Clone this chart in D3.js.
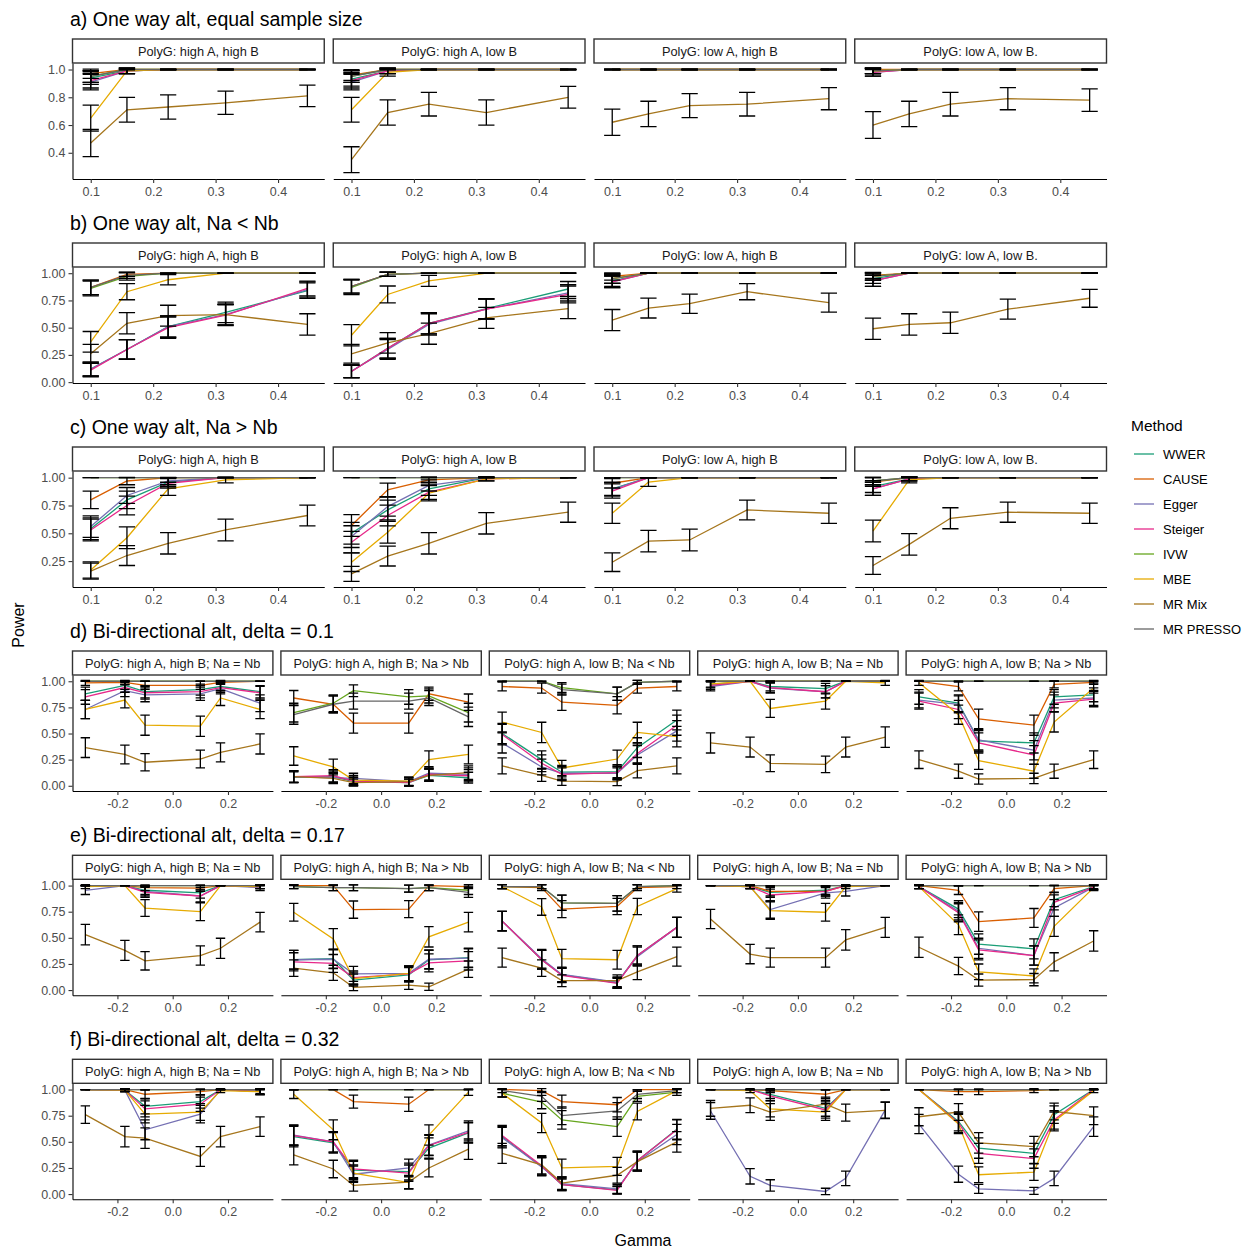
<!DOCTYPE html>
<html>
<head>
  <meta charset="utf-8">
  <title>Power by gamma</title>
  <script src="https://cdnjs.cloudflare.com/ajax/libs/d3/7.8.5/d3.min.js"></script>
  <style>
    body { margin: 0; background: #fff; }
    text { font-family: 'Liberation Sans', Arial, sans-serif; }
  </style>
</head>
<body>
<script>
// Size of the whole figure
var width = 1245,
    height = 1249;

// Methods and their colours (Dark2)
var methods = ['WWER', 'CAUSE', 'Egger', 'Steiger', 'IVW', 'MBE', 'MR Mix', 'MR PRESSO'];
var methodColors = ['#1b9e77', '#d95f02', '#7570b3', '#e7298a', '#66a61e', '#e6ab02', '#a6761d', '#666666'];

// number of simulations behind each power estimate (for the binomial error bars)
var nSims = 100;

// gamma values on the x axis
var gammaOneWay = [0.1, 0.158, 0.224, 0.316, 0.447];
var gammaBiDir = [-0.316, -0.173, -0.1, 0.1, 0.173, 0.316];

// tick labels
var xTicksOneWay = [0.1, 0.2, 0.3, 0.4];
var xTicksBiDir = [-0.2, 0.0, 0.2];
var yTicksRowA = [0.4, 0.6, 0.8, 1.0];
var yTicksPower = [0, 0.25, 0.5, 0.75, 1];

// facet labels and row titles
var facetsOneWay = ['PolyG: high A, high B', 'PolyG: high A, low B', 'PolyG: low A, high B', 'PolyG: low A, low B.'];
var facetsBiDir = ['PolyG: high A, high B; Na = Nb', 'PolyG: high A, high B; Na > Nb', 'PolyG: high A, low B; Na < Nb',
                   'PolyG: high A, low B; Na = Nb', 'PolyG: high A, low B; Na > Nb'];
var rowTitles = ['a) One way alt, equal sample size', 'b) One way alt, Na < Nb', 'c) One way alt, Na > Nb',
                 'd) Bi-directional alt, delta = 0.1', 'e) Bi-directional alt, delta = 0.17', 'f) Bi-directional alt, delta = 0.32'];

// Power, one array per method in the order of `methods`
// a) one way, equal sample size
var powA1 = [[0.94, 0.99, 1, 1, 1], [0.97, 1, 1, 1, 1], [0.91, 0.99, 1, 1, 1], [0.92, 0.99, 1, 1, 1],
             [0.95, 1, 1, 1, 1], [0.65, 0.99, 1, 1, 1], [0.47, 0.71, 0.73, 0.76, 0.81], [0.95, 1, 1, 1, 1]];
var powA2 = [[0.93, 0.99, 1, 1, 1], [0.96, 1, 1, 1, 1], [0.91, 0.99, 1, 1, 1], [0.92, 0.99, 1, 1, 1],
             [0.95, 1, 1, 1, 1], [0.71, 0.98, 1, 1, 1], [0.35, 0.69, 0.75, 0.69, 0.80], [0.95, 1, 1, 1, 1]];
var powA3 = [[1, 1, 1, 1, 1], [1, 1, 1, 1, 1], [1, 1, 1, 1, 1], [1, 1, 1, 1, 1],
             [1, 1, 1, 1, 1], [1, 1, 1, 1, 1], [0.62, 0.68, 0.74, 0.75, 0.79], [1, 1, 1, 1, 1]];
var powA4 = [[0.99, 1, 1, 1, 1], [1, 1, 1, 1, 1], [0.98, 1, 1, 1, 1], [0.98, 1, 1, 1, 1],
             [0.99, 1, 1, 1, 1], [0.99, 1, 1, 1, 1], [0.60, 0.68, 0.75, 0.79, 0.78], [0.99, 1, 1, 1, 1]];
// b) one way, Na < Nb
var powB1 = [[0.12, 0.30, 0.51, 0.64, 0.84], [0.87, 0.99, 1, 1, 1], [0.12, 0.30, 0.51, 0.62, 0.85], [0.11, 0.30, 0.50, 0.615, 0.86],
             [0.86, 0.97, 1, 1, 1], [0.37, 0.83, 0.94, 1, 1], [0.26, 0.54, 0.61, 0.62, 0.53], [0.87, 0.98, 1, 1, 1]];
var powB2 = [[0.10, 0.31, 0.54, 0.675, 0.855], [0.88, 0.99, 1, 1, 1], [0.10, 0.30, 0.53, 0.67, 0.82], [0.097, 0.31, 0.54, 0.67, 0.805],
             [0.87, 0.99, 1, 1, 1], [0.43, 0.805, 0.93, 1, 1], [0.26, 0.36, 0.445, 0.59, 0.675], [0.88, 0.99, 1, 1, 1]];
var powB3 = [[0.93, 1, 1, 1, 1], [0.97, 1, 1, 1, 1], [0.92, 1, 1, 1, 1], [0.92, 1, 1, 1, 1],
             [0.95, 1, 1, 1, 1], [0.95, 1, 1, 1, 1], [0.57, 0.68, 0.72, 0.83, 0.73], [0.95, 1, 1, 1, 1]];
var powB4 = [[0.95, 1, 1, 1, 1], [0.98, 1, 1, 1, 1], [0.93, 1, 1, 1, 1], [0.93, 1, 1, 1, 1],
             [0.97, 1, 1, 1, 1], [0.97, 1, 1, 1, 1], [0.49, 0.53, 0.545, 0.67, 0.77], [0.97, 1, 1, 1, 1]];
// c) one way, Na > Nb
var powC1 = [[0.54, 0.80, 0.96, 1, 1], [0.80, 0.97, 1, 1, 1], [0.56, 0.84, 0.97, 1, 1], [0.53, 0.75, 0.95, 1, 1],
             [1, 1, 1, 1, 1], [0.17, 0.46, 0.90, 0.98, 1], [0.16, 0.30, 0.41, 0.53, 0.66], [1, 1, 1, 1, 1]];
var powC2 = [[0.50, 0.71, 0.90, 1, 1], [0.57, 0.89, 0.98, 1, 1], [0.47, 0.74, 0.93, 1, 1], [0.42, 0.66, 0.87, 0.99, 1],
             [1, 1, 1, 1, 1], [0.24, 0.51, 0.86, 0.99, 1], [0.135, 0.295, 0.41, 0.59, 0.69], [1, 1, 1, 1, 1]];
var powC3 = [[0.90, 1, 1, 1, 1], [0.95, 1, 1, 1, 1], [0.895, 1, 1, 1, 1], [0.88, 1, 1, 1, 1],
             [1, 1, 1, 1, 1], [0.68, 0.96, 1, 1, 1], [0.24, 0.43, 0.44, 0.71, 0.68], [1, 1, 1, 1, 1]];
var powC4 = [[0.92, 0.99, 1, 1, 1], [0.96, 1, 1, 1, 1], [0.90, 0.99, 1, 1, 1], [0.90, 0.99, 1, 1, 1],
             [0.97, 1, 1, 1, 1], [0.52, 0.98, 1, 1, 1], [0.21, 0.40, 0.635, 0.69, 0.68], [0.97, 1, 1, 1, 1]];
// d) bi-directional, delta = 0.1
var powD1 = [[0.88, 0.96, 0.90, 0.92, 0.95, 0.90], [0.985, 0.99, 0.96, 0.96, 0.99, 1], [0.73, 0.91, 0.87, 0.88, 0.93, 0.79],
             [0.85, 0.94, 0.89, 0.90, 0.94, 0.89], [1, 1, 1, 1, 1, 1], [0.73, 0.82, 0.58, 0.57, 0.84, 0.73],
             [0.365, 0.30, 0.225, 0.256, 0.32, 0.40], [1, 1, 1, 1, 1, 1]];
var powD2 = [[0.08, 0.087, 0.04, 0.03, 0.10, 0.077], [0.84, 0.78, 0.60, 0.60, 0.88, 0.80], [0.087, 0.077, 0.07, 0.04, 0.12, 0.11],
             [0.087, 0.096, 0.045, 0.03, 0.11, 0.096], [0.70, 0.79, 0.91, 0.85, 0.86, 0.70], [0.285, 0.18, 0.055, 0.045, 0.25, 0.30],
             [0.087, 0.07, 0.03, 0.04, 0.10, 0.125], [0.68, 0.78, 0.81, 0.81, 0.84, 0.66]];
var powD3 = [[0.50, 0.25, 0.13, 0.135, 0.365, 0.63], [0.95, 0.935, 0.80, 0.77, 0.935, 0.95], [0.41, 0.18, 0.12, 0.12, 0.295, 0.525],
             [0.49, 0.215, 0.11, 0.125, 0.31, 0.58], [1, 1, 0.94, 0.88, 0.99, 1], [0.61, 0.51, 0.17, 0.256, 0.51, 0.47],
             [0.19, 0.10, 0.045, 0.04, 0.145, 0.19], [1, 1, 0.92, 0.88, 0.99, 1]];
var powD4 = [[0.97, 1, 0.95, 0.93, 1, 1], [1, 1, 1, 1, 1, 1], [0.95, 1, 0.935, 0.90, 1, 1],
             [0.96, 1, 0.94, 0.90, 1, 1], [1, 1, 1, 1, 1, 1], [0.975, 1, 0.74, 0.81, 1, 0.985],
             [0.41, 0.37, 0.215, 0.205, 0.37, 0.465], [1, 1, 1, 1, 1, 1]];
var powD5 = [[0.85, 0.79, 0.43, 0.41, 0.85, 0.87], [1, 0.95, 0.64, 0.58, 0.97, 0.99], [0.82, 0.78, 0.44, 0.34, 0.82, 0.84],
             [0.81, 0.73, 0.41, 0.295, 0.79, 0.83], [1, 1, 1, 1, 1, 1], [0.985, 0.68, 0.24, 0.14, 0.61, 0.935],
             [0.25, 0.14, 0.065, 0.07, 0.14, 0.25], [1, 1, 1, 1, 1, 1]];
// e) bi-directional, delta = 0.17
var powE1 = [[1, 1, 0.955, 0.93, 1, 0.99], [1, 1, 0.98, 0.975, 1, 1], [0.955, 1, 0.945, 0.90, 1, 0.98],
             [1, 1, 0.935, 0.90, 1, 0.99], [1, 1, 1, 1, 1, 1], [0.99, 1, 0.785, 0.75, 1, 0.99],
             [0.53, 0.38, 0.28, 0.33, 0.40, 0.65], [1, 1, 1, 1, 1, 1]];
var powE2 = [[0.29, 0.30, 0.096, 0.145, 0.29, 0.31], [1, 1, 0.77, 0.775, 1, 0.99], [0.29, 0.295, 0.155, 0.16, 0.295, 0.305],
             [0.27, 0.255, 0.12, 0.155, 0.26, 0.28], [0.99, 0.98, 0.98, 0.97, 0.98, 0.955], [0.745, 0.49, 0.11, 0.16, 0.51, 0.65],
             [0.21, 0.165, 0.026, 0.048, 0.032, 0.20], [0.99, 0.98, 0.98, 0.97, 0.98, 0.935]];
var powE3 = [[0.66, 0.29, 0.145, 0.07, 0.33, 0.60], [0.99, 0.98, 0.775, 0.80, 0.98, 0.99], [0.66, 0.30, 0.15, 0.075, 0.32, 0.60],
             [0.66, 0.29, 0.14, 0.064, 0.33, 0.60], [0.99, 0.99, 0.835, 0.83, 0.99, 1], [0.99, 0.795, 0.30, 0.29, 0.80, 0.97],
             [0.31, 0.21, 0.09, 0.09, 0.175, 0.32], [0.99, 0.99, 0.835, 0.83, 0.99, 1]];
var powE4 = [[1, 0.99, 0.935, 0.955, 1, 1], [1, 1, 0.945, 0.945, 1, 1], [1, 0.99, 0.77, 0.93, 0.945, 1],
             [1, 0.99, 0.91, 0.945, 1, 1], [1, 1, 1, 1, 1, 1], [1, 0.99, 0.76, 0.745, 0.99, 1],
             [0.68, 0.345, 0.31, 0.31, 0.48, 0.60], [1, 1, 1, 1, 1, 1]];
var powE5 = [[0.99, 0.775, 0.44, 0.395, 0.865, 0.99], [1, 0.955, 0.655, 0.69, 0.97, 1], [0.99, 0.755, 0.40, 0.33, 0.785, 0.985],
             [0.99, 0.74, 0.385, 0.33, 0.84, 0.985], [1, 1, 1, 1, 1, 1], [0.99, 0.625, 0.175, 0.135, 0.61, 0.98],
             [0.41, 0.23, 0.096, 0.10, 0.27, 0.47], [1, 1, 1, 1, 1, 1]];
// f) bi-directional, delta = 0.32
var powF1 = [[1, 0.995, 0.84, 0.885, 1, 0.98], [1, 1, 0.955, 0.98, 1, 1], [1, 0.995, 0.615, 0.765, 1, 0.985],
             [1, 0.995, 0.815, 0.86, 1, 0.98], [1, 1, 1, 1, 1, 1], [1, 0.995, 0.765, 0.785, 0.99, 0.98],
             [0.76, 0.55, 0.535, 0.36, 0.55, 0.645], [1, 1, 1, 1, 1, 1]];
var powF2 = [[0.55, 0.49, 0.23, 0.215, 0.44, 0.585], [1, 1, 0.885, 0.86, 1, 1], [0.565, 0.50, 0.19, 0.25, 0.47, 0.605],
             [0.56, 0.50, 0.24, 0.20, 0.465, 0.59], [1, 1, 1, 1, 1, 1], [0.955, 0.615, 0.20, 0.11, 0.565, 0.975],
             [0.375, 0.24, 0.083, 0.115, 0.25, 0.43], [1, 1, 1, 1, 1, 1]];
var powF3 = [[0.55, 0.265, 0.09, 0.04, 0.32, 0.62], [1, 0.99, 0.885, 0.855, 1, 1], [0.54, 0.26, 0.10, 0.05, 0.31, 0.57],
             [0.56, 0.27, 0.09, 0.035, 0.32, 0.615], [0.965, 0.88, 0.71, 0.645, 0.935, 0.975], [0.965, 0.68, 0.25, 0.265, 0.79, 0.99],
             [0.39, 0.28, 0.105, 0.18, 0.31, 0.50], [0.99, 0.935, 0.75, 0.795, 0.955, 0.99]];
var powF4 = [[1, 1, 0.955, 0.82, 1, 1], [1, 1, 0.99, 0.955, 1, 1], [0.795, 0.17, 0.083, 0.025, 0.15, 0.805],
             [1, 1, 0.94, 0.805, 1, 1], [1, 1, 1, 1, 1, 1], [1, 0.99, 0.815, 0.785, 1, 1],
             [0.82, 0.85, 0.785, 0.86, 0.78, 0.80], [1, 1, 1, 1, 1, 1]];
var powF5 = [[1, 0.695, 0.44, 0.39, 0.76, 1], [1, 0.98, 0.98, 0.99, 1, 1], [0.67, 0.19, 0.05, 0.03, 0.15, 0.645],
             [1, 0.68, 0.39, 0.34, 0.71, 1], [1, 1, 1, 1, 1, 1], [1, 0.67, 0.185, 0.21, 0.695, 0.99],
             [0.74, 0.785, 0.49, 0.455, 0.79, 0.75], [1, 1, 1, 1, 1, 1]];

// One entry per row of facets
var rows = [
  {title: rowTitles[0], gamma: gammaOneWay, facets: facetsOneWay, power: [powA1, powA2, powA3, powA4], yDomain: [0.211, 1.047], yTicks: yTicksRowA},
  {title: rowTitles[1], gamma: gammaOneWay, facets: facetsOneWay, power: [powB1, powB2, powB3, powB4], yDomain: [-0.008, 1.057], yTicks: yTicksPower},
  {title: rowTitles[2], gamma: gammaOneWay, facets: facetsOneWay, power: [powC1, powC2, powC3, powC4], yDomain: [0.017, 1.06], yTicks: yTicksPower},
  {title: rowTitles[3], gamma: gammaBiDir, facets: facetsBiDir, power: [powD1, powD2, powD3, powD4, powD5], yDomain: [-0.05, 1.06], yTicks: yTicksPower},
  {title: rowTitles[4], gamma: gammaBiDir, facets: facetsBiDir, power: [powE1, powE2, powE3, powE4, powE5], yDomain: [-0.05, 1.06], yTicks: yTicksPower},
  {title: rowTitles[5], gamma: gammaBiDir, facets: facetsBiDir, power: [powF1, powF2, powF3, powF4, powF5], yDomain: [-0.05, 1.06], yTicks: yTicksPower}
];

// Layout
var plotLeft = 72.5,
    plotRight = 1106.5,
    panelH = 116,
    stripH = 24,
    panelBottoms = [179, 383, 587, 791, 995.3, 1199.3];

var svg = d3.select('body')
  .append('svg')
  .attr('width', width)
  .attr('height', height);

function fmtTick(digits) {
  return function(v) { return (+v).toFixed(digits); };
}

rows.forEach(function(row, r) {
  var oneWay = row.gamma === gammaOneWay;
  var nCol = row.facets.length;
  var gap = oneWay ? 9 : 8;
  var panelW = (plotRight - plotLeft - gap * (nCol - 1)) / nCol;
  var bottom = panelBottoms[r],
      top = bottom - panelH;
  var xDomain = oneWay ? [0.0708, 0.474] : [-0.3625, 0.3625];
  var capHalf = oneWay ? 0.013 : 0.017;
  var xTicks = oneWay ? xTicksOneWay : xTicksBiDir;

  var y = d3.scaleLinear().domain(row.yDomain).range([bottom, top]);

  // row title
  svg.append('text')
    .attr('x', 70)
    .attr('y', top - stripH - 13)
    .attr('font-size', 19.5)
    .attr('fill', '#000')
    .text(row.title);

  row.facets.forEach(function(label, c) {
    var x0 = plotLeft + c * (panelW + gap);
    var x = d3.scaleLinear().domain(xDomain).range([x0, x0 + panelW]);
    var g = svg.append('g');

    var clipId = 'clip-' + r + '-' + c;
    g.append('clipPath').attr('id', clipId)
      .append('rect')
      .attr('x', x0).attr('y', top)
      .attr('width', panelW).attr('height', panelH);

    var series = row.power[c].map(function(vals, m) {
      return {
        color: methodColors[m],
        pts: vals.map(function(p, i) { return {g: row.gamma[i], p: p}; })
      };
    });

    var plot = g.append('g').attr('clip-path', 'url(#' + clipId + ')');

    var line = d3.line()
      .x(function(d) { return x(d.g); })
      .y(function(d) { return y(d.p); });

    plot.selectAll('path.series')
      .data(series)
      .enter()
      .append('path')
      .attr('class', 'series')
      .attr('fill', 'none')
      .attr('stroke', function(d) { return d.color; })
      .attr('stroke-width', 1.3)
      .attr('d', function(d) { return line(d.pts); });

    // binomial 95% intervals around each estimate
    var bars = [];
    series.forEach(function(s) {
      s.pts.forEach(function(d) {
        var half = 1.96 * Math.sqrt(d.p * (1 - d.p) / nSims);
        bars.push({g: d.g, lo: d.p - half, hi: d.p + half});
      });
    });

    plot.selectAll('path.bar')
      .data(bars)
      .enter()
      .append('path')
      .attr('class', 'bar')
      .attr('fill', 'none')
      .attr('stroke', '#000')
      .attr('stroke-width', 1.3)
      .attr('d', function(d) {
        var xl = x(d.g - capHalf), xm = x(d.g), xr = x(d.g + capHalf);
        return 'M' + xl + ',' + y(d.hi) + 'H' + xr +
               'M' + xm + ',' + y(d.hi) + 'V' + y(d.lo) +
               'M' + xl + ',' + y(d.lo) + 'H' + xr;
      });

    // x axis
    var xAxis = g.append('g')
      .attr('transform', 'translate(0,' + bottom + ')')
      .call(d3.axisBottom(x).tickValues(xTicks).tickFormat(fmtTick(1)).tickSize(4).tickSizeOuter(0).tickPadding(4));
    styleAxis(xAxis);

    // y axis on the first column only
    if (c === 0) {
      var yTicks = row.yTicks.filter(function(v) { return v >= row.yDomain[0] && v <= row.yDomain[1]; });
      var yAxis = g.append('g')
        .attr('transform', 'translate(' + x0 + ',0)')
        .call(d3.axisLeft(y).tickValues(yTicks).tickFormat(fmtTick(r === 0 ? 1 : 2)).tickSize(4).tickSizeOuter(0).tickPadding(3));
      styleAxis(yAxis);
    }

    // facet strip
    g.append('rect')
      .attr('x', x0)
      .attr('y', top - stripH)
      .attr('width', panelW)
      .attr('height', stripH)
      .attr('fill', '#fff')
      .attr('stroke', '#333')
      .attr('stroke-width', 1.4);

    g.append('text')
      .attr('x', x0 + panelW / 2)
      .attr('y', top - stripH / 2 + 4.5)
      .attr('text-anchor', 'middle')
      .attr('font-size', 12.8)
      .attr('fill', '#1a1a1a')
      .text(label);
  });
});

function styleAxis(ax) {
  ax.attr('font-family', null).attr('font-size', null);
  ax.select('.domain').attr('stroke', '#000').attr('stroke-width', 1.1);
  ax.selectAll('.tick line').attr('stroke', '#333').attr('stroke-width', 1.1);
  ax.selectAll('.tick text').attr('fill', '#4d4d4d').attr('font-size', 12.5);
}

// axis titles
svg.append('text')
  .attr('x', 643)
  .attr('y', 1246)
  .attr('text-anchor', 'middle')
  .attr('font-size', 16)
  .text('Gamma');

svg.append('text')
  .attr('transform', 'translate(24,625) rotate(-90)')
  .attr('text-anchor', 'middle')
  .attr('font-size', 16)
  .text('Power');

// legend
var legend = svg.append('g').attr('transform', 'translate(1131,0)');

legend.append('text')
  .attr('x', 0)
  .attr('y', 431)
  .attr('font-size', 15.5)
  .text('Method');

var keys = legend.selectAll('g.key')
  .data(methods)
  .enter()
  .append('g')
  .attr('class', 'key')
  .attr('transform', function(d, i) { return 'translate(0,' + (454 + i * 25) + ')'; });

keys.append('line')
  .attr('x1', 3).attr('x2', 23)
  .attr('stroke', function(d, i) { return methodColors[i]; })
  .attr('stroke-width', 1.3);

keys.append('text')
  .attr('x', 32)
  .attr('y', 4.5)
  .attr('font-size', 13)
  .text(function(d) { return d; });
</script>
</body>
</html>
